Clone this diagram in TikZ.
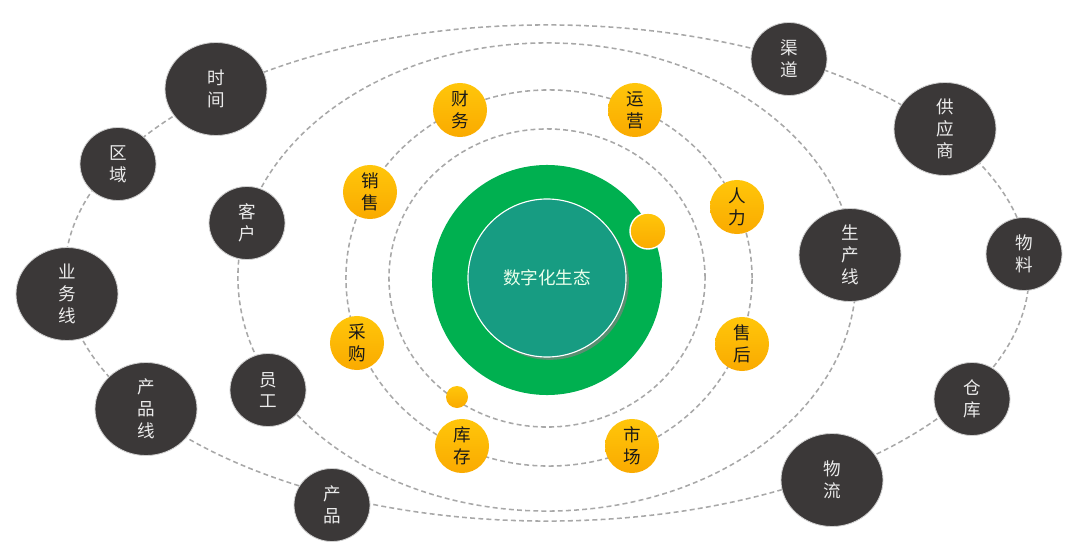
\documentclass[tikz,border=0pt]{standalone}
\usepackage{fontspec}
\setmainfont{Noto Sans CJK SC}
\usepackage{tikz}
\usetikzlibrary{shapes,shadows}
\definecolor{darknode}{RGB}{59,56,56}
\definecolor{ringgreen}{RGB}{0,176,80}
\definecolor{coreteal}{RGB}{23,156,130}
\definecolor{orangetop}{RGB}{255,198,10}
\definecolor{orangebot}{RGB}{250,170,0}
\definecolor{orbitgray}{RGB}{168,168,168}
\tikzstyle{bignode} = [ellipse, fill=darknode, draw=black!18, line width=0.6pt, text=white!92!black, align=center, inner sep=0pt, minimum width=2.55cm, minimum height=2.325cm, font=\fontsize{12.5}{15.5}\selectfont]
\tikzstyle{smallnode} = [bignode, minimum width=1.9cm, minimum height=1.825cm]
\tikzstyle{orangenode} = [circle, top color=orangetop, bottom color=orangebot, align=center, inner sep=0pt, minimum size=1.35cm, text=black!90, font=\fontsize{12.5}{15.5}\selectfont]
\tikzstyle{orbit} = [draw=orbitgray, line width=1.1pt, dash pattern=on 3.5pt off 2.3pt]

\begin{document}
\begin{tikzpicture}[x=0.025cm, y=-0.025cm]
\useasboundingbox (0,0) rectangle (1085,551);

\coordinate (o1) at (547,273);
\coordinate (o2) at (547,277);
\coordinate (o3) at (549,278);
\coordinate (o4) at (547,278);

\path [orbit] (o1) ellipse [x radius=12.05cm, y radius=6.2cm];
\path [orbit] (o2) ellipse [x radius=7.725cm, y radius=5.85cm];
\path [orbit] (o3) ellipse [x radius=5.075cm, y radius=4.7cm];
\path [orbit] (o4) ellipse [x radius=3.95cm, y radius=3.725cm];

\node [circle, fill=ringgreen, minimum size=5.75cm] (ring) at (547,280) {};
\node [circle, fill=coreteal, draw=white, line width=0.8pt, minimum size=3.95cm, text=white!92!green, font=\fontsize{12.5}{15}\selectfont, drop shadow={shadow xshift=2pt, shadow yshift=-2pt, opacity=0.7}] (core) at (547,278) {数字化生态};

\node [orangenode, minimum size=0.9cm, draw=white, line width=1pt] (moon) at (648,231) {};
\node [orangenode, minimum size=0.55cm] (pebble) at (457,397) {};

\node [orangenode] (finance) at (460,110) {财\\务};
\node [orangenode] (ops) at (635,110) {运\\营};
\node [orangenode] (hr) at (737,207) {人\\力};
\node [orangenode] (service) at (742,344) {售\\后};
\node [orangenode] (market) at (632,446) {市\\场};
\node [orangenode] (stock) at (462,446) {库\\存};
\node [orangenode] (purchase) at (357,343) {采\\购};
\node [orangenode] (sales) at (370,192) {销\\售};

\node [smallnode] (customer) at (247,223) {客\\户};
\node [smallnode] (staff) at (268,390) {员\\工};
\node [bignode] (line) at (850,255) {生\\产\\线};

\node [bignode] (time) at (216,89) {时\\间};
\node [smallnode] (region) at (118,164) {区\\域};
\node [bignode] (business) at (67,294) {业\\务\\线};
\node [bignode] (prodline) at (146,409) {产\\品\\线};
\node [smallnode] (product) at (332,505) {产\\品};
\node [bignode] (logistics) at (832,480) {物\\流};
\node [smallnode] (depot) at (972,399) {仓\\库};
\node [smallnode] (material) at (1024,254) {物\\料};
\node [bignode] (supplier) at (945,129) {供\\应\\商};
\node [smallnode] (channel) at (789,59) {渠\\道};

\end{tikzpicture}
\end{document}
